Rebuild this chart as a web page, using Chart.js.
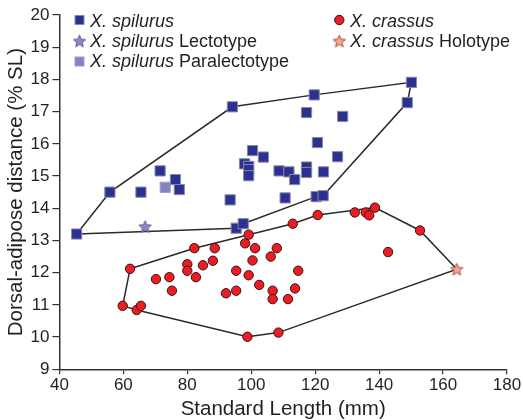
<!DOCTYPE html>
<html><head><meta charset="utf-8">
<script src="https://cdn.jsdelivr.net/npm/chart.js@4.4.0/dist/chart.umd.min.js"></script>
<style>html,body{margin:0;padding:0;background:#fff}canvas{display:block}</style>
</head><body>
<canvas id="c" width="523" height="420"></canvas>
<script>
// ---- data ----
const xTicks = [40, 60, 80, 100, 120, 140, 160, 180];
const yTicks = [9, 10, 11, 12, 13, 14, 15, 16, 17, 18, 19, 20];

const spilurusX = [45.4, 55.8, 65.5, 71.5, 76.3, 77.5, 94.1, 119.7, 117.3, 128.6, 120.7, 100.4, 103.8, 127.0,
  97.9, 99.2, 99.2, 99.2, 108.7, 111.8, 113.6, 117.3, 117.3, 122.6, 93.4, 110.6, 120.3, 122.5, 95.3, 97.5, 150.1, 148.8];
const spilurusY = [13.20, 14.50, 14.50, 15.16, 14.89, 14.58, 17.15, 17.52, 16.97, 16.85, 16.04, 15.79, 15.59, 15.60,
  15.38, 15.30, 15.20, 15.01, 15.16, 15.13, 14.89, 15.28, 15.11, 15.13, 14.26, 14.32, 14.36, 14.39, 13.38, 13.52, 17.91, 17.28];

const lectotypeX = [66.8];
const lectotypeY = [13.43];
const paralectotypeX = [73.1];
const paralectotypeY = [14.65];

const crassusX = [62.1, 59.8, 64.2, 65.5, 70.2, 74.4, 75.2, 82.2, 88.6, 80.0, 80.0, 82.7, 84.9, 88.0, 92.1, 95.3, 95.3,
  99.2, 98.1, 101.2, 100.4, 99.2, 102.5, 106.7, 106.7, 106.1, 108.0, 98.8, 108.5, 114.7, 113.7, 111.5, 113.0, 120.8,
  132.4, 135.8, 136.9, 138.7, 142.8, 152.8];
const crassusY = [12.12, 10.97, 10.84, 10.97, 11.80, 11.86, 11.44, 12.76, 12.76, 12.26, 12.06, 11.86, 12.23, 12.37, 11.36, 11.44, 12.06,
  13.18, 12.91, 12.76, 12.38, 11.92, 11.62, 11.44, 11.18, 12.50, 12.76, 10.01, 10.14, 12.06, 11.51, 11.18, 13.52, 13.79,
  13.87, 13.87, 13.78, 14.02, 12.64, 13.31];

const holotypeX = [164.3];
const holotypeY = [12.11];

const spilurusHullX = [45.4, 55.8, 94.1, 119.7, 150.1, 148.8, 122.5, 120.3, 97.5, 95.3, 45.4];
const spilurusHullY = [13.20, 14.50, 17.15, 17.52, 17.91, 17.28, 14.39, 14.36, 13.52, 13.38, 13.20];
const crassusHullX = [62.1, 82.2, 99.2, 113.0, 120.8, 138.7, 152.8, 164.3, 108.5, 98.8, 64.2, 59.8, 62.1];
const crassusHullY = [12.12, 12.76, 13.18, 13.52, 13.79, 14.02, 13.31, 12.11, 10.14, 10.01, 10.84, 10.97, 12.12];

// ---- helpers ----
const pts = (xs, ys) => xs.map((x, i) => ({x, y: ys[i]}));
const FONT = "'Liberation Sans', Arial, Helvetica, sans-serif";
const TXT = '#231f20';

function starPath(ctx, cx, cy, R) {
  const r = R * 0.45;
  ctx.beginPath();
  for (let i = 0; i < 10; i++) {
    const a = -Math.PI / 2 + i * Math.PI / 5;
    const rad = i % 2 ? r : R;
    ctx.lineTo(cx + rad * Math.cos(a), cy + rad * Math.sin(a));
  }
  ctx.closePath();
}
function starCanvas(size, fill, stroke) {
  const c = document.createElement('canvas');
  c.width = c.height = size;
  const ctx = c.getContext('2d');
  starPath(ctx, size / 2, size / 2 + 0.6, size / 2 - 1);
  ctx.fillStyle = fill; ctx.fill();
  ctx.strokeStyle = stroke; ctx.lineWidth = 1; ctx.stroke();
  return c;
}

const BLUE = '#2b3190', BLUE_B = '#8a8aa6';
const PARA = '#8783c3';
const RED = '#ec1c24', RED_B = '#3a1414';
const LECTO_F = '#8d89c8', LECTO_S = '#5f5ba0';
const HOLO_F = '#f7a68b', HOLO_S = '#9a5440';
const lectoStar = starCanvas(15, LECTO_F, LECTO_S);
const holoStar = starCanvas(15, HOLO_F, HOLO_S);

const legendItems = [
  {x: 79.5, y: 20, marker: 'square', fill: BLUE, stroke: BLUE_B, it: 'X. spilurus', rest: '', tx: 90, ty: 26.5},
  {x: 79.5, y: 41, marker: 'star', img: lectoStar, it: 'X. spilurus', rest: ' Lectotype', tx: 90, ty: 46.5},
  {x: 79.5, y: 61.5, marker: 'square', fill: PARA, stroke: '#a09cc8', it: 'X. spilurus', rest: ' Paralectotype', tx: 90, ty: 66.5},
  {x: 339.3, y: 20, marker: 'circle', fill: RED, stroke: RED_B, it: 'X. crassus', rest: '', tx: 350, ty: 26.5},
  {x: 339.3, y: 41, marker: 'star', img: holoStar, it: 'X. crassus', rest: ' Holotype', tx: 350, ty: 46.5}
];

const legendPlugin = {
  id: 'customLegend',
  afterDraw(chart) {
    const ctx = chart.ctx;
    ctx.save();
    legendItems.forEach(it => {
      if (it.marker === 'square') {
        ctx.fillStyle = it.fill; ctx.strokeStyle = it.stroke; ctx.lineWidth = 1;
        ctx.fillRect(it.x - 4.5, it.y - 4.5, 9, 9);
        ctx.strokeRect(it.x - 4.5, it.y - 4.5, 9, 9);
      } else if (it.marker === 'circle') {
        ctx.beginPath(); ctx.arc(it.x, it.y, 4.7, 0, Math.PI * 2);
        ctx.fillStyle = it.fill; ctx.fill();
        ctx.strokeStyle = it.stroke; ctx.lineWidth = 1; ctx.stroke();
      } else {
        ctx.drawImage(it.img, it.x - it.img.width / 2, it.y - it.img.height / 2);
      }
      ctx.fillStyle = TXT;
      ctx.textBaseline = 'alphabetic';
      ctx.textAlign = 'left';
      ctx.font = 'italic 18px ' + FONT;
      ctx.fillText(it.it, it.tx, it.ty);
      const w = ctx.measureText(it.it).width;
      ctx.font = '18px ' + FONT;
      ctx.fillText(it.rest, it.tx + w, it.ty);
    });
    ctx.restore();
  }
};

const lineStyle = {type: 'scatter', showLine: true, borderColor: '#2a2a2a', borderWidth: 1.5,
  pointRadius: 0, fill: false, tension: 0, order: 10};

new Chart(document.getElementById('c'), {
  type: 'scatter',
  data: {
    datasets: [
      Object.assign({label: 'spilurus hull', data: pts(spilurusHullX, spilurusHullY)}, lineStyle),
      Object.assign({label: 'crassus hull', data: pts(crassusHullX, crassusHullY)}, lineStyle),
      {label: 'X. spilurus', data: pts(spilurusX, spilurusY), pointStyle: 'rect', pointRadius: 7.2,
        backgroundColor: BLUE, borderColor: BLUE_B, borderWidth: 1, order: 1},
      {label: 'X. spilurus Paralectotype', data: pts(paralectotypeX, paralectotypeY), pointStyle: 'rect', pointRadius: 7.2,
        backgroundColor: PARA, borderColor: '#a09cc8', borderWidth: 1, order: 1},
      {label: 'X. spilurus Lectotype', data: pts(lectotypeX, lectotypeY), pointStyle: lectoStar, order: 1},
      {label: 'X. crassus', data: pts(crassusX, crassusY), pointStyle: 'circle', pointRadius: 4.7,
        backgroundColor: RED, borderColor: RED_B, borderWidth: 1, order: 0},
      {label: 'X. crassus Holotype', data: pts(holotypeX, holotypeY), pointStyle: holoStar, order: 0}
    ]
  },
  options: {
    responsive: false,
    animation: false,
    events: [],
    layout: {padding: {top: 15, right: 16, left: 0, bottom: 0}},
    plugins: {legend: {display: false}, tooltip: {enabled: false}},
    scales: {
      x: {
        type: 'linear', min: xTicks[0], max: xTicks[xTicks.length - 1],
        afterBuildTicks: s => { s.ticks = xTicks.map(v => ({value: v})); },
        afterFit: s => { s.height = 50.7; },
        grid: {display: true, drawOnChartArea: false, drawTicks: true, tickLength: 5, color: '#333', lineWidth: 1.2},
        border: {display: true, color: '#333', width: 1.5},
        ticks: {color: TXT, font: {family: FONT, size: 17}, padding: 1, maxRotation: 0},
        title: {display: true, text: 'Standard Length (mm)', color: TXT, font: {family: FONT, size: 20.5}, padding: {top: 0, bottom: -2}}
      },
      y: {
        type: 'linear', min: yTicks[0], max: yTicks[yTicks.length - 1],
        afterBuildTicks: s => { s.ticks = yTicks.map(v => ({value: v})); },
        afterFit: s => { s.width = 59.4; },
        grid: {display: true, drawOnChartArea: false, drawTicks: true, tickLength: 7, color: '#333', lineWidth: 1.2},
        border: {display: true, color: '#333', width: 1.5},
        ticks: {color: TXT, font: {family: FONT, size: 17}, padding: 3},
        title: {display: true, text: 'Dorsal-adipose distance (% SL)', color: TXT, font: {family: FONT, size: 20.5}, padding: {top: 4, bottom: 0}}
      }
    }
  },
  plugins: [legendPlugin]
});
</script>
</body></html>
